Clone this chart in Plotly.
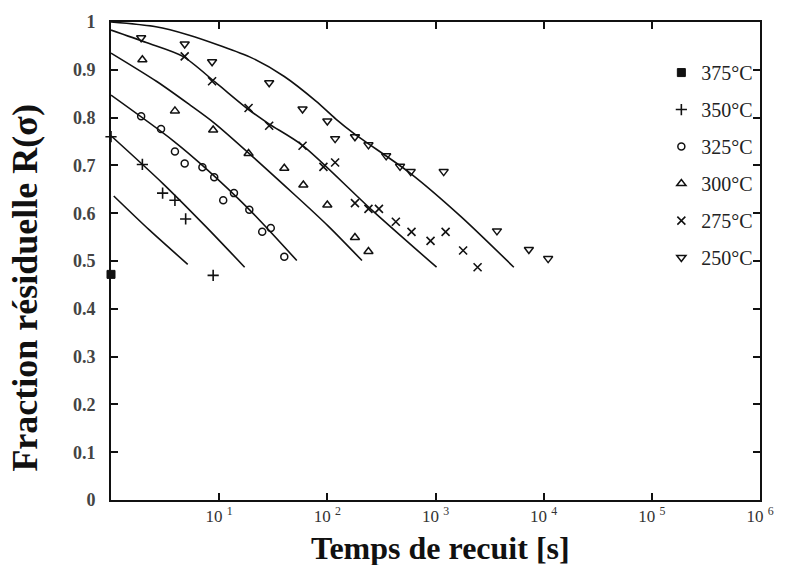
import plotly.graph_objects as go

# ---- data ----
series_names = ["375°C", "350°C", "325°C", "300°C", "275°C", "250°C"]

t375 = [1.0]
r375 = [0.472]

t350 = [1.0, 1.95, 3.0, 3.9, 4.9, 8.8]
r350 = [0.76, 0.702, 0.642, 0.627, 0.588, 0.47]

t325 = [1.9, 2.9, 3.9, 4.8, 7.0, 9.0, 10.9, 13.7, 19, 25, 30, 40]
r325 = [0.803, 0.776, 0.729, 0.704, 0.696, 0.675, 0.627, 0.642, 0.607, 0.561, 0.569, 0.509]

t300 = [1.95, 3.9, 8.8, 18.7, 40, 60, 100, 180, 240]
r300 = [0.921, 0.814, 0.774, 0.725, 0.694, 0.659, 0.617, 0.549, 0.52]

t275 = [4.8, 8.6, 18.7, 29, 59, 92, 118, 180, 240, 300, 430, 600, 900, 1240, 1800, 2450]
r275 = [0.928, 0.876, 0.82, 0.783, 0.741, 0.697, 0.706, 0.621, 0.609, 0.609, 0.582, 0.561, 0.542, 0.561, 0.522, 0.487]

t250 = [1.9, 4.8, 8.6, 29, 59, 100, 118, 180, 240, 350, 470, 590, 1190, 3700, 7300, 11000]
r250 = [0.967, 0.954, 0.917, 0.873, 0.818, 0.793, 0.756, 0.76, 0.743, 0.72, 0.698, 0.687, 0.687, 0.563, 0.524, 0.505]

# fitted curves
c375_t = [1.06, 2.26, 5.12]
c375_r = [0.636, 0.565, 0.493]
c350_t = [1.0, 3.02, 7.46, 17.2]
c350_r = [0.762, 0.662, 0.573, 0.487]
c325_t = [1.0, 3.74, 7.0, 19.1, 52.2]
c325_r = [0.847, 0.752, 0.70, 0.607, 0.501]
c300_t = [1.0, 2.63, 5.25, 9.2, 51.3, 102, 209]
c300_r = [0.935, 0.876, 0.828, 0.787, 0.636, 0.573, 0.501]
c275_t = [1.0, 2.12, 4.61, 9.2, 18.4, 28.8, 58.9, 257, 1023]
c275_r = [0.983, 0.957, 0.928, 0.874, 0.818, 0.787, 0.742, 0.607, 0.487]
c250_t = [1.0, 2.6, 5.2, 9.8, 20, 40, 79, 120, 178, 590, 1700, 5300]
c250_r = [1.0, 0.99, 0.973, 0.952, 0.925, 0.886, 0.834, 0.797, 0.766, 0.683, 0.594, 0.487]

x_tickvals = [10, 100, 1000, 10000, 100000, 1000000]
x_ticktext = ["10 <sup>1</sup>", "10 <sup>2</sup>", "10 <sup>3</sup>", "10 <sup>4</sup>", "10 <sup>5</sup>", "10 <sup>6</sup>"]
y_tickvals = [0, 0.1, 0.2, 0.3, 0.4, 0.5, 0.6, 0.7, 0.8, 0.9, 1.0]
y_ticktext = ["0", "0.1", "0.2", "0.3", "0.4", "0.5", "0.6", "0.7", "0.8", "0.9", "1"]

SERIF = "Liberation Serif, Times New Roman, serif"
INK = "#111111"

fig = go.Figure()

curves = [(c375_t, c375_r), (c350_t, c350_r), (c325_t, c325_r),
          (c300_t, c300_r), (c275_t, c275_r), (c250_t, c250_r)]
for ct, cr in curves:
    fig.add_trace(go.Scatter(x=ct, y=cr, mode="lines", showlegend=False,
                             line=dict(color=INK, width=1.6, shape="spline", smoothing=0.8),
                             hoverinfo="skip"))

marker_sets = [
    (t375, r375, "square", 8, 1.0),
    (t350, r350, "cross-thin-open", 8, 1.6),
    (t325, r325, "circle-open", 7, 1.5),
    (t300, r300, "triangle-up-open", 8, 1.5),
    (t275, r275, "x-thin-open", 8, 1.6),
    (t250, r250, "triangle-down-open", 8, 1.5),
]
for name, (tx, ry, sym, sz, lw) in zip(series_names, marker_sets):
    fig.add_trace(go.Scatter(
        x=tx, y=ry, mode="markers", name=name, legendgroup=name,
        cliponaxis=False,
        marker=dict(symbol=sym, size=sz, color=INK, line=dict(color=INK, width=lw)),
    ))

fig.update_layout(
    width=786, height=565,
    margin=dict(l=111, r=13, t=17, b=65),
    paper_bgcolor="white", plot_bgcolor="white",
    font=dict(family=SERIF, color=INK),
    showlegend=True,
    legend=dict(x=0.848, y=0.935, xanchor="left", yanchor="top",
                font=dict(family=SERIF, size=20, color="#222222"),
                bgcolor="rgba(0,0,0,0)", tracegroupgap=8, itemwidth=30),
    xaxis=dict(type="log", range=[0, 6], tickvals=x_tickvals, ticktext=x_ticktext,
               ticks="inside", ticklen=7, tickwidth=1.5, tickcolor=INK,
               showline=True, linewidth=2, linecolor=INK, mirror="ticks",
               showgrid=False, zeroline=False,
               tickfont=dict(family=SERIF, size=17, color="#333333")),
    yaxis=dict(range=[0, 1], tickvals=y_tickvals, ticktext=y_ticktext,
               ticks="inside", ticklen=7, tickwidth=1.5, tickcolor=INK,
               showline=True, linewidth=2, linecolor=INK, mirror="ticks",
               showgrid=False, zeroline=False, ticklabelstandoff=10,
               tickfont=dict(family=SERIF, size=18, color="#444444", weight="bold")),
    annotations=[
        dict(text="<b>Temps de recuit [s]</b>", xref="paper", yref="paper",
             x=0.508, y=-0.101, xanchor="center", yanchor="middle", showarrow=False,
             font=dict(family=SERIF, size=32, color=INK)),
        dict(text="<b>Fraction résiduelle R(σ)</b>", xref="paper", yref="paper",
             x=-0.132, y=0.445, xanchor="center", yanchor="middle", textangle=-90,
             showarrow=False, font=dict(family=SERIF, size=36, color=INK)),
    ],
)

fig.write_html("out.html", config={"displayModeBar": False},
               post_script="document.body.style.margin='0';document.body.style.overflow='hidden';")
